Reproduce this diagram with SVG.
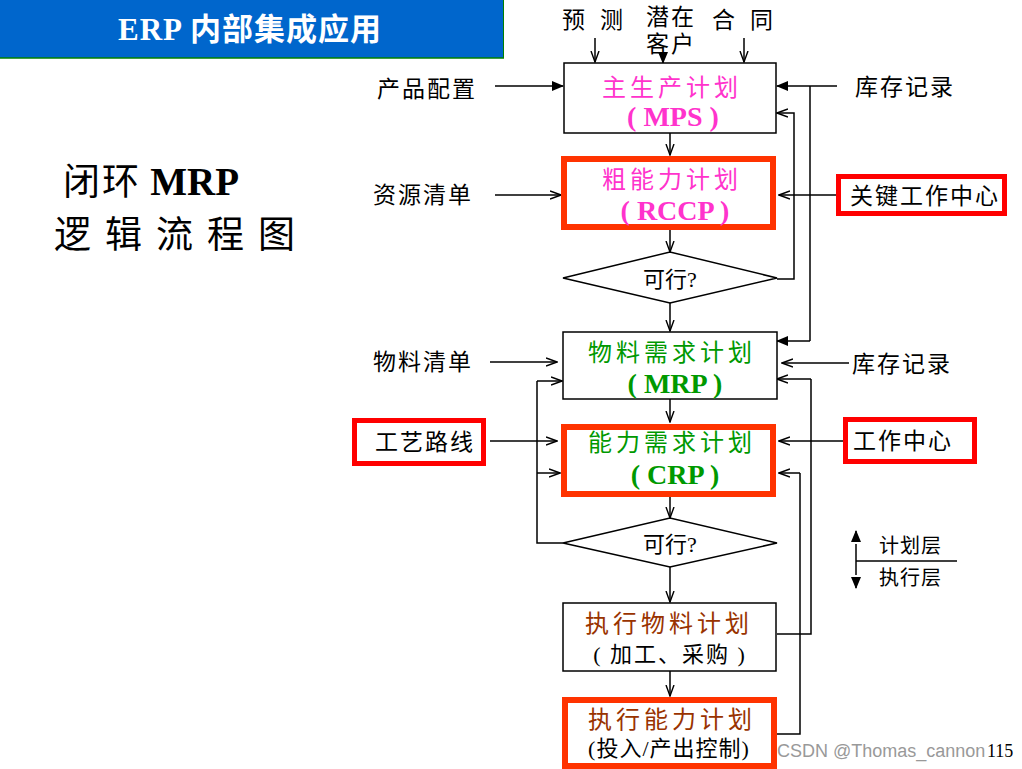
<svg xmlns="http://www.w3.org/2000/svg" width="1022" height="769" viewBox="0 0 1022 769">
<style>
text{font-family:"Liberation Serif","Noto Sans CJK SC",serif;}
text.sans{font-family:"Liberation Sans","Noto Sans CJK SC",sans-serif;}
.lbl{font-size:23px;fill:#000;letter-spacing:2px;}
.mid{text-anchor:middle;}
.box{fill:#fff;stroke:#000;stroke-width:1.5;}
.rbox{fill:#fff;stroke:#FF3300;stroke-width:6;}
.lbox{fill:#fff;stroke:#FF0000;stroke-width:5;}
.ln{fill:none;stroke:#000;stroke-width:1.5;}
.ttl{font-size:24px;letter-spacing:4px;}
.abbr{font-size:28px;font-weight:bold;}
.mag{fill:#FF33CC;}
.grn{fill:#009900;}
.brn{fill:#993300;}
</style>
<defs>
<marker id="op" viewBox="0 0 12 10" refX="11" refY="5" markerWidth="12" markerHeight="10" markerUnits="userSpaceOnUse" orient="auto">
<path d="M0,1 L11,5 L0,9" fill="none" stroke="#000" stroke-width="1.4"/>
</marker>
<marker id="fl" viewBox="0 0 12 10" refX="11" refY="5" markerWidth="12" markerHeight="10" markerUnits="userSpaceOnUse" orient="auto">
<path d="M0,0 L12,5 L0,10 Z" fill="#000"/>
</marker>
</defs>
<rect width="1022" height="769" fill="#fff"/>

<g id="header">
<rect x="0" y="0" width="503" height="58" fill="#0066CC"/>
<line x1="0" y1="58" x2="504" y2="58" stroke="#008000" stroke-width="1.5"/>
<line x1="503.5" y1="0" x2="503.5" y2="58" stroke="#008000" stroke-width="1"/>
<text x="250" y="40" text-anchor="middle" font-size="31" font-weight="bold" fill="#fff" letter-spacing="1">ERP 内部集成应用</text>
</g>

<g id="title">
<text x="63" y="195" font-size="37" font-weight="bold" fill="#000"><tspan font-weight="normal" letter-spacing="2">闭环</tspan> <tspan font-size="39">MRP</tspan></text>
<text x="54" y="248" font-size="37" fill="#000" letter-spacing="14">逻辑流程图</text>
</g>

<g id="connectors">
<line class="ln" x1="595" y1="38" x2="595" y2="62" marker-end="url(#op)"/>
<line class="ln" x1="663" y1="54" x2="663" y2="63" marker-end="url(#fl)"/>
<line class="ln" x1="744" y1="38" x2="744" y2="62" marker-end="url(#op)"/>
<line class="ln" x1="495" y1="86" x2="563" y2="86" marker-end="url(#fl)"/>
<line class="ln" x1="837" y1="86" x2="777" y2="86" marker-end="url(#fl)" stroke-width="2"/>
<polyline class="ln" points="810,86 810,341"/>
<line class="ln" x1="810" y1="341" x2="777" y2="341" marker-end="url(#fl)"/>
<polyline class="ln" points="777,279 794,279 794,113 790,113"/>
<line class="ln" x1="790" y1="113" x2="777" y2="113" marker-end="url(#op)"/>
<line class="ln" x1="670" y1="133" x2="670" y2="155" marker-end="url(#op)"/>
<line class="ln" x1="495" y1="195" x2="561" y2="195" marker-end="url(#op)"/>
<line class="ln" x1="836" y1="195" x2="779" y2="195" marker-end="url(#op)"/>
<line class="ln" x1="670" y1="230" x2="670" y2="252" marker-end="url(#op)"/>
<line class="ln" x1="670" y1="303" x2="670" y2="331" marker-end="url(#op)"/>
<line class="ln" x1="490" y1="362" x2="557" y2="362" marker-end="url(#op)"/>
<line class="ln" x1="849" y1="363" x2="782" y2="363" marker-end="url(#op)"/>
<polyline class="ln" points="777,634 811,634 811,379"/>
<line class="ln" x1="811" y1="379" x2="777" y2="379" marker-end="url(#op)"/>
<line class="ln" x1="670" y1="399" x2="670" y2="422" marker-end="url(#op)"/>
<line class="ln" x1="490" y1="441" x2="557" y2="441" marker-end="url(#op)"/>
<line class="ln" x1="843" y1="441" x2="779" y2="441" marker-end="url(#op)"/>
<polyline class="ln" points="777,734 800,734 800,473"/>
<line class="ln" x1="800" y1="473" x2="779" y2="473" marker-end="url(#op)"/>
<polyline class="ln" points="563,543 537,543 537,381"/>
<line class="ln" x1="537" y1="381" x2="562" y2="381" marker-end="url(#op)"/>
<line class="ln" x1="537" y1="473" x2="560" y2="473" marker-end="url(#op)"/>
<line class="ln" x1="670" y1="497" x2="670" y2="518" marker-end="url(#op)"/>
<line class="ln" x1="670" y1="567" x2="670" y2="602" marker-end="url(#op)"/>
<line class="ln" x1="670" y1="671" x2="670" y2="696" marker-end="url(#op)"/>
</g>

<g id="inputs">
<text class="lbl" x="562" y="28">预</text>
<text class="lbl" x="600" y="28">测</text>
<text class="lbl" x="646" y="25">潜在</text>
<text class="lbl" x="646" y="52">客户</text>
<text class="lbl" x="712" y="28">合</text>
<text class="lbl" x="750" y="28">同</text>
<text class="lbl" x="377" y="97">产品配置</text>
<text class="lbl" x="855" y="95">库存记录</text>
<text class="lbl" x="373" y="203">资源清单</text>
<text class="lbl" x="373" y="370">物料清单</text>
<text class="lbl" x="852" y="372">库存记录</text>
</g>

<g id="key-work-center">
<rect class="lbox" x="838.5" y="176.5" width="166" height="37"/>
<text class="lbl" x="850" y="204">关键工作中心</text>
</g>
<g id="routing">
<rect class="lbox" x="354.5" y="420.5" width="129" height="43"/>
<text class="lbl" x="375" y="450">工艺路线</text>
</g>
<g id="work-center">
<rect class="lbox" x="845.5" y="419.5" width="129" height="42"/>
<text class="lbl" x="853" y="449">工作中心</text>
</g>

<g id="mps">
<rect class="box" x="564" y="63" width="212" height="70"/>
<text class="ttl mag mid" x="672" y="96">主生产计划</text>
<text class="abbr mag mid" x="673" y="126">( MPS )</text>
</g>
<g id="rccp">
<rect class="rbox" x="564" y="159" width="209" height="68"/>
<text class="ttl mag mid" x="672" y="188">粗能力计划</text>
<text class="abbr mag mid" x="675" y="220">( RCCP )</text>
</g>
<g id="feasible1">
<polygon class="box" points="563,278 670,252 777,278 670,303"/>
<text class="mid" x="670" y="287" font-size="22">可行?</text>
</g>
<g id="mrp">
<rect class="box" x="563" y="332" width="214" height="67"/>
<text class="ttl grn mid" x="672" y="361">物料需求计划</text>
<text class="abbr grn mid" x="675" y="393">( MRP )</text>
</g>
<g id="crp">
<rect class="rbox" x="564" y="427" width="209" height="67"/>
<text class="ttl grn mid" x="672" y="451">能力需求计划</text>
<text class="abbr grn mid" x="675" y="484">( CRP )</text>
</g>
<g id="feasible2">
<polygon class="box" points="563,543 670,518 777,543 670,567"/>
<text class="mid" x="670" y="552" font-size="22">可行?</text>
</g>
<g id="exec-material">
<rect class="box" x="563" y="603" width="213" height="68"/>
<text class="ttl brn mid" x="669" y="632">执行物料计划</text>
<text class="mid" x="670" y="662" font-size="22" letter-spacing="2">( 加工、采购 )</text>
</g>
<g id="exec-capacity">
<rect class="rbox" x="565" y="700" width="209" height="66"/>
<text class="ttl brn mid" x="672" y="728">执行能力计划</text>
<text class="mid" x="669" y="756" font-size="22" letter-spacing="1">(投入/产出控制)</text>
</g>

<g id="legend">
<line class="ln" x1="856" y1="544" x2="856" y2="575"/>
<line class="ln" x1="856" y1="538" x2="856" y2="531" marker-end="url(#fl)"/>
<line class="ln" x1="856" y1="581" x2="856" y2="588" marker-end="url(#fl)"/>
<line class="ln" x1="856" y1="561" x2="957" y2="561" stroke-width="1.2"/>
<text x="879" y="553" font-size="20" letter-spacing="1">计划层</text>
<text x="879" y="585" font-size="20" letter-spacing="1">执行层</text>
</g>

<g id="footer">
<text class="sans" x="777" y="757" font-size="18" fill="#999">CSDN @Thomas_cannon</text>
<text x="987" y="757" font-size="18" fill="#000">115</text>
</g>
</svg>
